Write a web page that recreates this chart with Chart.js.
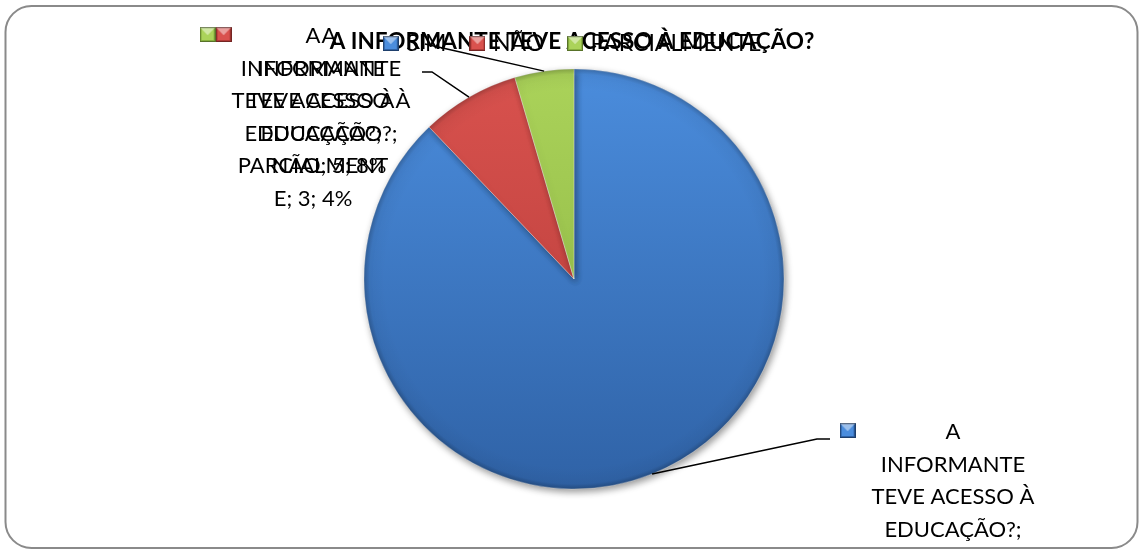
<!DOCTYPE html>
<html lang="pt">
<head>
<meta charset="UTF-8">
<title>A informante teve acesso à educação?</title>
<script src="https://cdn.jsdelivr.net/npm/chart.js"></script>
<style>
  html, body { margin: 0; padding: 0; background: #fff; }
  #wrap { width: 1141px; height: 551px; position: relative; }
</style>
</head>
<body>
<div id="wrap"><canvas id="pie" width="1141" height="551"></canvas></div>
<script>
// chart data
const chartTitle = 'A INFORMANTE TEVE ACESSO À EDUCAÇÃO?';
const categories = ['SIM', 'NÃO', 'PARCIALMENTE'];
const counts = [58, 5, 3];
const percents = ['88%', '8%', '4%'];

// slice colours (light top -> dark bottom)
const topColors = ['#4b8ddd', '#d9524e', '#abd35a'];
const bottomColors = ['#2f62a6', '#b23a37', '#88b03f'];

const FONT = 'Lato, "Liberation Sans", sans-serif';
const TEXT_SIZE = 22;

// little bevelled square used as legend / label key
function bevelSquare(light, dark) {
    const c = document.createElement('canvas');
    const w = 16, h = 15;
    c.width = w; c.height = h;
    const g = c.getContext('2d');
    g.fillStyle = dark;
    g.fillRect(0, 0, w, h);
    g.fillStyle = light;
    g.fillRect(2, 2, w - 4, h - 4);
    g.fillStyle = 'rgba(255,255,255,0.45)';
    g.beginPath();
    g.moveTo(0, 0); g.lineTo(w, 0); g.lineTo(w / 2, h * 0.55);
    g.closePath();
    g.fill();
    g.strokeStyle = 'rgba(0,0,0,0.35)';
    g.strokeRect(0.5, 0.5, w - 1, h - 1);
    return c;
}
const keyImages = topColors.map((c, i) => bevelSquare(c, bottomColors[i]));

function sliceFill(ctx) {
    const area = ctx.chart.chartArea;
    const i = ctx.dataIndex;
    if (!area) return topColors[i];
    const g = ctx.chart.ctx.createLinearGradient(0, area.top, 0, area.bottom);
    g.addColorStop(0, topColors[i]);
    g.addColorStop(1, bottomColors[i]);
    return g;
}

// where each data label sits, and the bend of its leader line
const labelLayout = [
    { cx: 953, top: 432, bend: [817, 439], end: [830, 439] },
    { cx: 329, top: 36, bend: [432, 72], end: [422, 72] },
    { cx: 313, top: 36, bend: [447, 49], end: [425, 44] }
];
const labelLine = 32.5;
const nameWrap = 164;   // series name part
const valueWrap = 155;  // "category; count; pct" part

function wrapText(ctx, text, maxW) {
    const lines = [];
    let cur = '';
    text.split(' ').forEach(word => {
        const test = cur ? cur + ' ' + word : word;
        if (ctx.measureText(test).width <= maxW) { cur = test; return; }
        if (cur) lines.push(cur);
        cur = '';
        // break words that are too long on their own
        let piece = '';
        for (const ch of word) {
            if (ctx.measureText(piece + ch).width > maxW && piece) { lines.push(piece); piece = ''; }
            piece += ch;
        }
        cur = piece;
    });
    if (cur) lines.push(cur);
    return lines;
}

function framePath(ctx) {
    ctx.beginPath();
    ctx.roundRect(5.5, 6, 1132, 542, 26);
}

const frame = {
    id: 'frame',
    beforeDraw(chart) {
        const ctx = chart.ctx;
        ctx.save();
        ctx.fillStyle = '#fff';
        ctx.fillRect(0, 0, chart.width, chart.height);
        framePath(ctx);
        ctx.lineWidth = 2;
        ctx.strokeStyle = '#8a8a8a';
        ctx.stroke();
        // title sits on the same row as the legend
        ctx.font = 'bold 22.5px ' + FONT;
        ctx.fillStyle = '#000';
        ctx.textAlign = 'center';
        ctx.textBaseline = 'middle';
        ctx.fillText(chartTitle, 572, 42);
        ctx.restore();
    },
    beforeDatasetsDraw(chart) {
        const ctx = chart.ctx;
        ctx.save();
        ctx.shadowColor = 'rgba(0,0,0,0.4)';
        ctx.shadowBlur = 7;
        ctx.shadowOffsetX = 2;
        ctx.shadowOffsetY = 3;
    },
    afterDatasetsDraw(chart) {
        const ctx = chart.ctx;
        ctx.restore();
        const arcs = chart.getDatasetMeta(0).data;
        const a0 = arcs[0];
        // rim shading
        ctx.save();
        const rim = ctx.createRadialGradient(a0.x, a0.y, a0.outerRadius * 0.9, a0.x, a0.y, a0.outerRadius);
        rim.addColorStop(0, 'rgba(0,0,0,0)');
        rim.addColorStop(0.75, 'rgba(0,0,0,0.04)');
        rim.addColorStop(1, 'rgba(0,0,0,0.22)');
        ctx.fillStyle = rim;
        ctx.beginPath();
        ctx.arc(a0.x, a0.y, a0.outerRadius, 0, Math.PI * 2);
        ctx.fill();
        ctx.restore();

        // data labels with leader lines
        ctx.save();
        framePath(ctx);
        ctx.clip();
        ctx.font = TEXT_SIZE + 'px ' + FONT;
        arcs.forEach((arc, i) => {
            const L = labelLayout[i];
            const mid = (arc.startAngle + arc.endAngle) / 2;
            const px = arc.x + Math.cos(mid) * arc.outerRadius;
            const py = arc.y + Math.sin(mid) * arc.outerRadius;
            ctx.beginPath();
            ctx.moveTo(px, py);
            ctx.lineTo(L.bend[0], L.bend[1]);
            ctx.lineTo(L.end[0], L.end[1]);
            ctx.lineWidth = 1.5;
            ctx.strokeStyle = '#000';
            ctx.stroke();
        });
        [2, 1, 0].forEach(i => {
            const L = labelLayout[i];
            const lines = wrapText(ctx, chartTitle + ';', nameWrap)
                .concat(wrapText(ctx, categories[i] + '; ' + counts[i] + '; ' + percents[i], valueWrap));
            const blockW = Math.max(...lines.map(s => ctx.measureText(s).width));
            const img = keyImages[i];
            ctx.drawImage(img, L.cx - blockW / 2 - 16 - img.width, L.top - 9);
            ctx.fillStyle = '#000';
            ctx.textAlign = 'center';
            ctx.textBaseline = 'middle';
            lines.forEach((s, k) => ctx.fillText(s, L.cx, L.top + k * labelLine));
        });
        ctx.restore();
    }
};

new Chart(document.getElementById('pie'), {
    type: 'pie',
    data: {
        labels: categories,
        datasets: [{
            data: counts,
            backgroundColor: sliceFill,
            borderColor: 'rgba(255,255,255,0.35)',
            borderWidth: 1,
            hoverOffset: 0,
            offset: 0
        }]
    },
    options: {
        responsive: false,
        animation: false,
        radius: 210,
        layout: { padding: { top: 5, left: 7, right: 0, bottom: 58 } },
        plugins: {
            tooltip: { enabled: false },
            title: { display: false },
            legend: {
                position: 'top',
                labels: {
                    usePointStyle: true,
                    pointStyleWidth: 8,
                    boxHeight: 14,
                    padding: 27,
                    color: '#000',
                    font: { family: FONT, size: 23 },
                    generateLabels: () => categories.map((c, i) => ({
                        text: c,
                        pointStyle: keyImages[i],
                        fillStyle: topColors[i],
                        strokeStyle: 'transparent',
                        lineWidth: 0,
                        hidden: false,
                        index: i
                    }))
                }
            }
        }
    },
    plugins: [frame]
});
</script>
</body>
</html>
